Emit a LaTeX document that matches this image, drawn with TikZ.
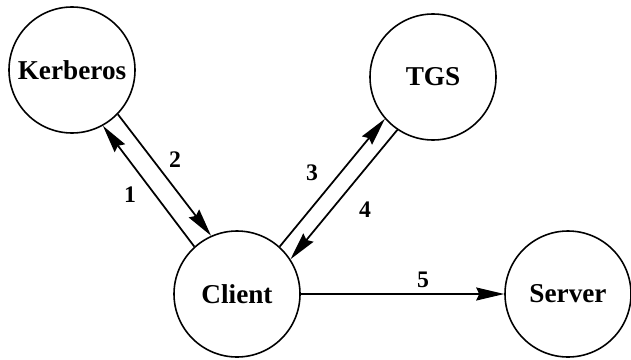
\documentclass[tikz,border=0pt]{standalone}
\usepackage{fontspec}
\setmainfont{Liberation Serif}
\usepackage{tikz}
\usetikzlibrary{arrows.meta}

\begin{document}
\begin{tikzpicture}[
  party/.style={draw, circle, line width=0.9pt, minimum size=2.52cm, inner sep=0pt,
                font=\fontsize{15.5}{18}\selectfont\bfseries},
  msg/.style={line width=1pt, -{Stealth[length=5.6mm, width=2.6mm, inset=0.6mm]}},
  num/.style={font=\fontsize{13.5}{15}\selectfont\bfseries}
]

\useasboundingbox (0,0) rectangle (12.62,7.18);

% parties
\node[party] (kdc) at (1.44, 5.78) {Kerberos};
\node[party] (tgs) at (8.66, 5.64) {TGS};
\node[party] (client) at (4.74, 1.30) {Client};
\node[party] (server) at (11.36, 1.30) {Server};

% client <-> kerberos
\draw [msg] (client.132) -- (kdc.-61);
\draw [msg] (kdc.-44) -- (client.114);

% client <-> tgs
\draw [msg] (client.48.5) -- (tgs.221.5);
\draw [msg] (tgs.236.5) -- (client.33.5);

% client -> server
\draw [msg] (client) -- (server);

% message numbers
\node[num] (n1) at (2.60, 3.28) {1};
\node[num] (n2) at (3.50, 3.98) {2};
\node[num] (n3) at (6.24, 3.72) {3};
\node[num] (n4) at (7.30, 2.98) {4};
\node[num] (n5) at (8.46, 1.58) {5};

\end{tikzpicture}
\end{document}
